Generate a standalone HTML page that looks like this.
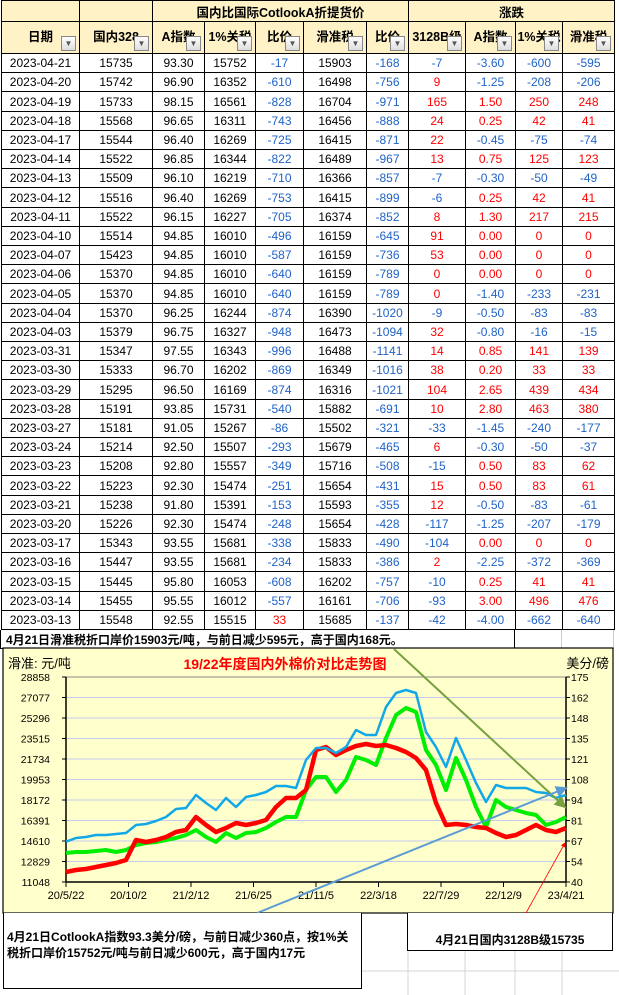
<!DOCTYPE html>
<html><head><meta charset="utf-8">
<style>
body{margin:0;width:619px;height:995px;background:#fff;position:relative;overflow:hidden;font-family:"Liberation Sans","Noto Sans CJK SC",sans-serif;}
.c{position:absolute;box-sizing:border-box;border-right:1px solid #000;border-bottom:1px solid #000;display:flex;align-items:center;justify-content:center;font-size:12px;white-space:nowrap;}
.h{background:#fff2c6;font-weight:bold;font-family:"Liberation Sans","Noto Sans CJK SC",sans-serif;font-size:12.5px;}
.h2{align-items:flex-start;padding-top:4px;}
.dd{position:absolute;right:3px;bottom:2px;width:15px;height:15px;box-sizing:border-box;border:1px solid #888;background:linear-gradient(#fff,#ddd);font-size:8px;color:#555;display:flex;align-items:center;justify-content:center;}
.b{color:#1f62c8}.r{color:#f00}
.txt{position:absolute;font-weight:bold;font-size:12px;color:#000;}
</style></head><body>
<div id="tbl"></div>
<div class="c" style="left:0;top:630px;width:515px;height:19px;justify-content:flex-start;padding-left:5px;font-weight:bold;border-left:1px solid #000">4月21日滑准税折口岸价15903元/吨，与前日减少595元，高于国内168元。</div>
<div class="c" style="left:515px;top:630px;width:47px;height:19px;border-color:#ccc"></div>
<div class="c" style="left:562px;top:630px;width:52px;height:19px;border-color:#ccc"></div>

<svg id="chart" width="619" height="995" style="position:absolute;left:0;top:0" xmlns="http://www.w3.org/2000/svg">
<line x1="362" y1="971" x2="619" y2="971" stroke="#d4d4d4"/><line x1="465" y1="951" x2="465" y2="995" stroke="#d4d4d4"/><line x1="515" y1="951" x2="515" y2="995" stroke="#d4d4d4"/><line x1="562" y1="951" x2="562" y2="995" stroke="#d4d4d4"/><line x1="408" y1="951" x2="408" y2="995" stroke="#d4d4d4"/>
<rect x="3" y="648" width="610" height="265" fill="#ffffcc" stroke="#000" stroke-width="1.2"/>
<g id="grid"></g><g id="axes"></g><g id="series"></g>
<text x="8" y="668" font-size="13" fill="#000">滑准: 元/吨</text>
<text x="609" y="668" font-size="13" text-anchor="end" fill="#000">美分/磅</text>
<text x="285" y="669" font-size="14" font-weight="bold" text-anchor="middle" fill="#f00">19/22年度国内外棉价对比走势图</text>
<defs>
<marker id="ag" markerWidth="6" markerHeight="6" refX="5" refY="3" orient="auto"><path d="M0,0L6,3L0,6z" fill="#77a040"/></marker>
<marker id="ab" markerWidth="6" markerHeight="6" refX="5" refY="3" orient="auto"><path d="M0,0L6,3L0,6z" fill="#5b9bd5"/></marker>
<marker id="ar" markerWidth="6" markerHeight="6" refX="5" refY="3" orient="auto"><path d="M0,0L6,3L0,6z" fill="#f00"/></marker>
</defs>
<line x1="394" y1="649" x2="565" y2="807" stroke="#77a040" stroke-width="2" marker-end="url(#ag)"/>
<line x1="257" y1="913" x2="566" y2="788" stroke="#5b9bd5" stroke-width="2" marker-end="url(#ab)"/>
<line x1="526" y1="913" x2="565" y2="843" stroke="#f00" stroke-width="0.8" marker-end="url(#ar)"/>
</svg>

<div style="position:absolute;left:3px;top:913px;width:359px;height:76px;box-sizing:border-box;border:1px solid #000;border-top:none;background:#fff">
<div class="txt" style="left:3px;top:16px;width:350px;line-height:16px;white-space:normal">4月21日CotlookA指数93.3美分/磅，与前日减少360点，按1%关税折口岸价15752元/吨与前日减少600元，高于国内17元</div></div>
<div style="position:absolute;left:407px;top:913px;width:206px;height:38px;box-sizing:border-box;border:1px solid #000;border-top:none;background:#fff;display:flex;align-items:flex-end;justify-content:center;padding-bottom:2px;font-weight:bold;font-size:12px">4月21日国内3128B级15735</div>

<script>
// ---- table ----
const colW=[79,73,52,51,48,63,42,57,50,47,52];
const headers=['日期','国内328','A指数','1%关税','比价','滑准税','比价','3128B级','A指数','1%关税','滑准税'];
const rows=[
['2023-04-21','15735','93.30','15752','-17','15903','-168','-7','-3.60','-600','-595'],
['2023-04-20','15742','96.90','16352','-610','16498','-756','9','-1.25','-208','-206'],
['2023-04-19','15733','98.15','16561','-828','16704','-971','165','1.50','250','248'],
['2023-04-18','15568','96.65','16311','-743','16456','-888','24','0.25','42','41'],
['2023-04-17','15544','96.40','16269','-725','16415','-871','22','-0.45','-75','-74'],
['2023-04-14','15522','96.85','16344','-822','16489','-967','13','0.75','125','123'],
['2023-04-13','15509','96.10','16219','-710','16366','-857','-7','-0.30','-50','-49'],
['2023-04-12','15516','96.40','16269','-753','16415','-899','-6','0.25','42','41'],
['2023-04-11','15522','96.15','16227','-705','16374','-852','8','1.30','217','215'],
['2023-04-10','15514','94.85','16010','-496','16159','-645','91','0.00','0','0'],
['2023-04-07','15423','94.85','16010','-587','16159','-736','53','0.00','0','0'],
['2023-04-06','15370','94.85','16010','-640','16159','-789','0','0.00','0','0'],
['2023-04-05','15370','94.85','16010','-640','16159','-789','0','-1.40','-233','-231'],
['2023-04-04','15370','96.25','16244','-874','16390','-1020','-9','-0.50','-83','-83'],
['2023-04-03','15379','96.75','16327','-948','16473','-1094','32','-0.80','-16','-15'],
['2023-03-31','15347','97.55','16343','-996','16488','-1141','14','0.85','141','139'],
['2023-03-30','15333','96.70','16202','-869','16349','-1016','38','0.20','33','33'],
['2023-03-29','15295','96.50','16169','-874','16316','-1021','104','2.65','439','434'],
['2023-03-28','15191','93.85','15731','-540','15882','-691','10','2.80','463','380'],
['2023-03-27','15181','91.05','15267','-86','15502','-321','-33','-1.45','-240','-177'],
['2023-03-24','15214','92.50','15507','-293','15679','-465','6','-0.30','-50','-37'],
['2023-03-23','15208','92.80','15557','-349','15716','-508','-15','0.50','83','62'],
['2023-03-22','15223','92.30','15474','-251','15654','-431','15','0.50','83','61'],
['2023-03-21','15238','91.80','15391','-153','15593','-355','12','-0.50','-83','-61'],
['2023-03-20','15226','92.30','15474','-248','15654','-428','-117','-1.25','-207','-179'],
['2023-03-17','15343','93.55','15681','-338','15833','-490','-104','0.00','0','0'],
['2023-03-16','15447','93.55','15681','-234','15833','-386','2','-2.25','-372','-369'],
['2023-03-15','15445','95.80','16053','-608','16202','-757','-10','0.25','41','41'],
['2023-03-14','15455','95.55','16012','-557','16161','-706','-93','3.00','496','476'],
['2023-03-13','15548','92.55','15515','33','15685','-137','-42','-4.00','-662','-640']];
const tbl=document.getElementById('tbl');
const colX=[1];colW.forEach((w,i)=>colX.push(colX[i]+w));
function cell(x,y,w,h,cls,txt){const d=document.createElement('div');d.className='c '+cls;d.style.left=x+'px';d.style.top=y+'px';d.style.width=w+'px';d.style.height=h+'px';if(x<=1)d.style.borderLeft='1px solid #000';if(y<=0)d.style.borderTop='1px solid #000';d.textContent=txt;tbl.appendChild(d);return d;}
let d;
d=cell(colX[0],0,colW[0],22,'h','');


d=cell(colX[1],0,colW[1],22,'h','');


d=cell(colX[2],0,colX[7]-colX[2],22,'h','国内比国际CotlookA折提货价');


d=cell(colX[7],0,colX[11]-colX[7],22,'h','涨跌');


headers.forEach((t,i)=>{
  const e=cell(colX[i],22,colW[i],32,'h h2',t);
  
  
  const b=document.createElement('div');b.className='dd';b.textContent='▼';
  
  
  e.appendChild(b);
});
const rh=19.2;
rows.forEach((r,ri)=>{
  const y=54+ri*rh;
  r.forEach((v,ci)=>{
    let cls='';
    if(ci===6)cls='b';
    else if(ci===4||ci>=7)cls=(parseFloat(v)<0)?'b':'r';
    const e=cell(colX[ci],Math.round(y),colW[ci],Math.round(y+rh)-Math.round(y),cls,v);
    
    
  });
});

// ---- chart ----
const leftTicks=[11048,12829,14610,16391,18172,19953,21734,23515,25296,27077,28858];
const rightTicks=[40,54,67,81,94,108,121,135,148,162,175];
const dateLabels=['20/5/22','20/10/2','21/2/12','21/6/25','21/11/5','22/3/18','22/7/29','22/12/9','23/4/21'];
const domestic328=[11917,12091,12177,12351,12525,12699,12959,14697,14523,14697,14958,15392,15566,16695,16000,15392,15740,16174,16000,16174,16435,17564,18346,18346,19041,22516,22777,22082,22516,22864,23037,22864,22951,22690,22342,21821,20779,17912,16000,16087,16000,15826,15740,15305,14958,15131,15566,16000,15566,15392,15740];
const slideTax=[14549,14871,14958,15131,15131,15218,15305,16000,16087,16348,16695,17390,17477,18607,17912,17303,18346,17564,18433,18607,18867,19388,19388,19215,21647,22690,22690,22256,22777,24254,23819,23819,26252,27468,27729,27468,24080,22777,21039,23559,21647,19649,17998,19475,19215,19215,19215,18867,18780,18346,18607];
const tariff1pct=[13568,13654,13654,13741,13828,13654,13828,14263,14436,14523,14697,14871,15131,15566,14958,14523,15305,14871,15305,15392,15740,16261,16695,16695,19041,20170,20170,18867,19910,21908,21647,21213,23559,25557,26165,25818,22516,21213,19041,21821,19910,17564,15826,18172,17564,17303,17043,16869,16000,16261,16695];
const PL=66,PR=566,PT=677,PB=882;
const yL=v=>PB-(v-leftTicks[0])/(leftTicks[leftTicks.length-1]-leftTicks[0])*(PB-PT);
const xI=i=>PL+i/(domestic328.length-1)*(PR-PL);
const xT=i=>PL+i/(dateLabels.length-1)*(PR-PL);
const NS='http://www.w3.org/2000/svg';
function el(p,tag,at,txt){const e=document.createElementNS(NS,tag);for(const k in at)e.setAttribute(k,at[k]);if(txt!==undefined)e.textContent=txt;p.appendChild(e);return e;}
const G=document.getElementById('grid'),A=document.getElementById('axes'),S=document.getElementById('series');
leftTicks.forEach((v,i)=>{
  const y=yL(v);
  const g=el(G,'line',{x1:PL,x2:PR,y1:y,y2:y,stroke:i===leftTicks.length-1?'#888':'#c4cbee','stroke-width':1});
  
  
  const t=el(A,'text',{x:50,y:y+4,'font-size':10.5,'text-anchor':'end',fill:'#000'},v);
  
  
  el(A,'line',{x1:PL-4,x2:PL,y1:y,y2:y,stroke:'#000'});
  el(A,'line',{x1:PR,x2:PR+4,y1:y,y2:y,stroke:'#000'});
});
rightTicks.forEach((v,i)=>{
  const y=PB-i/(rightTicks.length-1)*(PB-PT);
  const t=el(A,'text',{x:571,y:y+4,'font-size':10.5,fill:'#000'},v);
  
  
});
el(A,'line',{x1:PL,x2:PL,y1:PT,y2:PB,stroke:'#000','stroke-width':1.5});
el(A,'line',{x1:PR,x2:PR,y1:PT,y2:PB,stroke:'#000','stroke-width':1.5});
el(A,'line',{x1:PL,x2:PR,y1:PB,y2:PB,stroke:'#000','stroke-width':1.5});
dateLabels.forEach((l,i)=>{
  const x=xT(i);
  el(A,'line',{x1:x,x2:x,y1:PB,y2:PB+5,stroke:'#000'});
  const t=el(A,'text',{x:x,y:899,'font-size':11,'text-anchor':'middle',fill:'#000'},l);
  
  
});
function line(arr,color,w,name){
  const p=el(S,'polyline',{points:arr.map((v,i)=>xI(i).toFixed(1)+','+yL(v).toFixed(1)).join(' '),fill:'none',stroke:color,'stroke-width':w,'stroke-linejoin':'round'});
  
  
}
line(tariff1pct,'#00ee00',4,'series-1pct-tariff');
line(domestic328,'#ff0000',4.5,'series-domestic-328');
line(slideTax,'#12a8e8',2.5,'series-slide-tax');
</script>
</body></html>
